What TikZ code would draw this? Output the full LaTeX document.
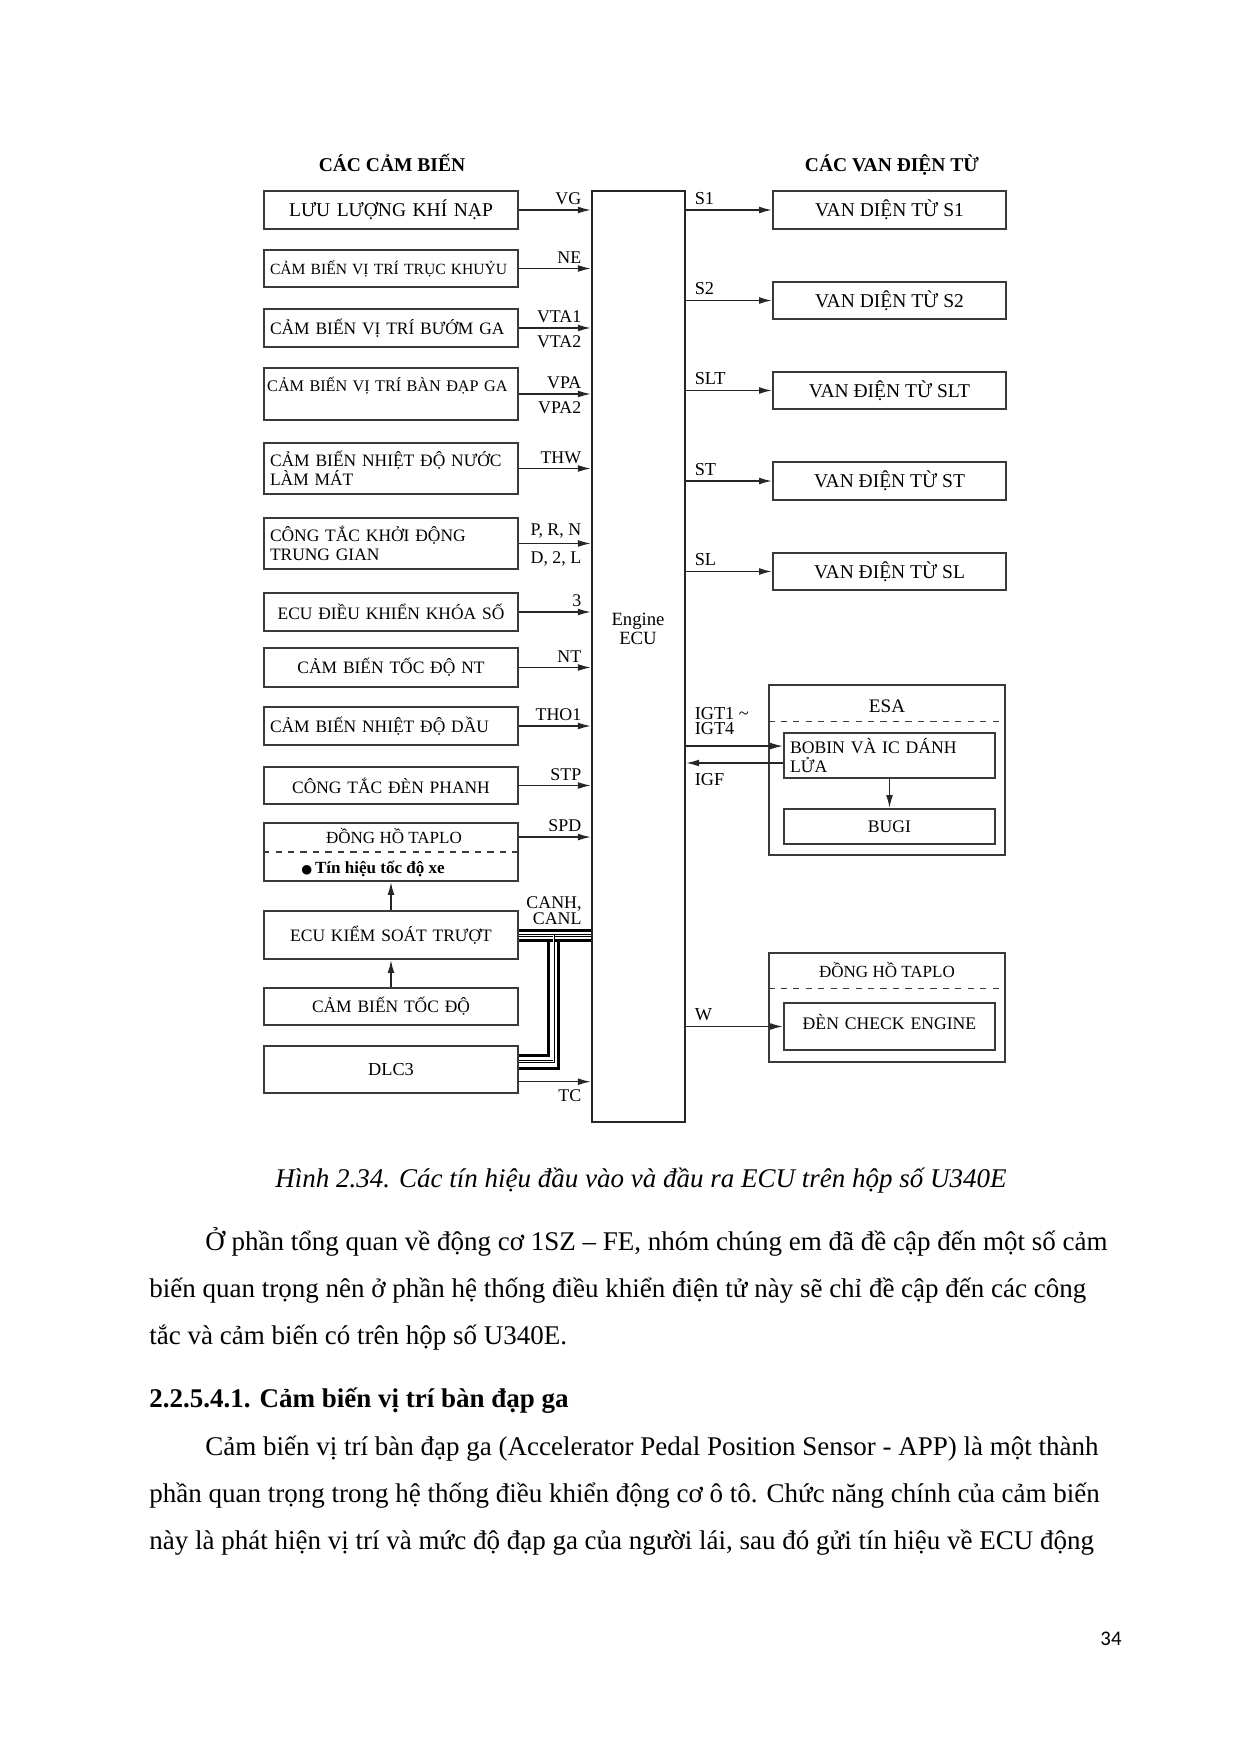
\documentclass[tikz,border=0pt]{standalone}
\usepackage{fontspec}
\setmainfont{Liberation Serif}
\newfontfamily\sotrang{Carlito}
\newfontfamily\kyhieu{DejaVu Sans}
\usepackage{tikz}
\usepackage{xcolor}
\usetikzlibrary{
    positioning,
    calc,
    arrows.meta
}
\definecolor{VienHop}{HTML}{3A3A3A}

\tikzset{
    hopcb/.style={
        draw=VienHop,
        line width=0.9pt,
        text width=40.95mm,
        inner xsep=1.02mm,
        inner ysep=1pt,
        minimum height=6.43mm,
        align=left,
        font=\fontsize{8.4}{9.2}\selectfont
    },
    hopvan/.style={
        draw=VienHop,
        line width=0.9pt,
        minimum width=39.43mm,
        minimum height=6.43mm,
        inner sep=1pt,
        align=center,
        font=\fontsize{9.4}{11}\selectfont
    },
    hoptrong/.style={
        draw=VienHop,
        line width=0.9pt,
        text width=33.67mm,
        inner xsep=1.02mm,
        inner ysep=1pt,
        align=left,
        font=\fontsize{8.5}{9.6}\selectfont
    },
    hopngoai/.style={
        draw=VienHop,
        line width=0.7pt,
        minimum width=39.94mm,
        inner sep=0pt
    },
    tinhieu/.style={
        draw=black!85,
        line width=0.7pt,
        -{Latex[length=2.2mm,width=1.15mm]}
    },
    nhanT/.style={anchor=south east, inner sep=1pt, xshift=-1.17mm, yshift=0.4mm, align=right, font=\fontsize{8.6}{7.4}\selectfont},
    nhanTd/.style={anchor=north east, inner sep=1pt, xshift=-1.17mm, yshift=-0.9mm, font=\fontsize{8.6}{7.4}\selectfont},
    nhanP/.style={anchor=south west, inner sep=1pt, xshift=1.0mm, yshift=0.5mm, align=left, font=\fontsize{8.8}{7.2}\selectfont},
    nhanPd/.style={anchor=north west, inner sep=1pt, xshift=1.0mm, yshift=-1.2mm, font=\fontsize{8.8}{7.2}\selectfont},
    daycan/.style={draw=black, line width=1.45pt},
    daycandoi/.style={draw=black, line width=0.4pt, double=white, double distance=0.5pt},
    tieude/.style={anchor=base, inner sep=0pt, font=\bfseries\fontsize{9.4}{11}\selectfont},
    dongvb/.style={anchor=base west, inner sep=0pt, font=\fontsize{13}{15}\selectfont}
}

\begin{document}
\begin{tikzpicture}[x=0.16922mm, y=-0.16922mm]
    \useasboundingbox (0,0) rectangle (1241,1754);

    \node[tieude] (tdcb) at (392,172) {CÁC CẢM BIẾN};
    \node[tieude] (tdvan) at (892,172) {CÁC VAN ĐIỆN TỪ};

    \node[
        draw=black!85,
        line width=1pt,
        minimum width=15.74mm,
        minimum height=157.54mm,
        inner sep=0pt
    ] (ecu) at (638.5,656.5) {};
    \node[align=center, inner sep=0pt, font=\fontsize{9}{6.3}\selectfont] (ecuchu) at (638,629) {Engine\\ECU};

    \node[hopcb, align=center, font=\fontsize{9.4}{10}\selectfont] (luuluong) at (391,210) {LƯU LƯỢNG KHÍ NẠP};
    \node[hopcb, minimum height=6.26mm, font=\fontsize{7.5}{8}\selectfont] (truckhuyu) at (391,268.5) {CẢM BIẾN VỊ TRÍ TRỤC KHUỶU};
    \node[hopcb] (buomga) at (391,328) {CẢM BIẾN VỊ TRÍ BƯỚM GA};
    \node[hopcb, minimum height=8.80mm, text width=41.9mm, inner xsep=0.54mm, font=\fontsize{7.8}{9.2}\selectfont] (bandap) at (391,394) {CẢM BIẾN VỊ TRÍ BÀN ĐẠP GA\\\mbox{}};
    \node[hopcb, minimum height=8.63mm] (nuoc) at (391,468.5) {CẢM BIẾN NHIỆT ĐỘ NƯỚC\\LÀM MÁT};
    \node[hopcb, minimum height=8.63mm] (khoidong) at (391,543.5) {CÔNG TẮC KHỞI ĐỘNG\\TRUNG GIAN};
    \node[hopcb, align=center] (khoaso) at (391,612) {ECU ĐIỀU KHIỂN KHÓA SỐ};
    \node[hopcb, align=center, minimum height=6.60mm] (tocdont) at (391,667.5) {CẢM BIẾN TỐC ĐỘ NT};
    \node[hopcb] (dau) at (391,726) {CẢM BIẾN NHIỆT ĐỘ DẦU};
    \node[hopcb, align=center, minimum height=6.26mm] (phanh) at (391,785.5) {CÔNG TẮC ĐÈN PHANH};
    \node[hopcb, minimum height=9.81mm] (taplot) at (391,852) {};
    \draw[dashed, draw=VienHop, line width=0.7pt] (taplot.west) -- (taplot.east);
    \node[anchor=base, inner sep=0pt, font=\fontsize{8.2}{9}\selectfont] (taplotchu) at (394,843) {ĐỒNG HỒ TAPLO};
    \node[anchor=base, inner sep=0pt, font=\bfseries\fontsize{8.2}{9}\selectfont] (tinhieuxe) at (373,873) {{\kyhieu\fontsize{6}{6}\selectfont ●}\,Tín hiệu tốc độ xe};
    \node[hopcb, align=center, minimum height=8.12mm] (truot) at (391,935) {ECU KIỂM SOÁT TRƯỢT};
    \node[hopcb, align=center, minimum height=6.26mm] (tocdo) at (391,1006.5) {CẢM BIẾN TỐC ĐỘ};
    \node[hopcb, align=center, minimum height=7.95mm, font=\fontsize{8.8}{10}\selectfont] (dlc) at (391,1069.5) {DLC3};

    \draw[tinhieu] (luuluong.east) -- (luuluong.east -| ecu.west) node[nhanT] (lvg) {VG};
    \draw[tinhieu] (truckhuyu.east) -- (truckhuyu.east -| ecu.west) node[nhanT] (lne) {NE};
    \draw[tinhieu] (buomga.east) -- (buomga.east -| ecu.west) node[nhanT] (lvta1) {VTA1} node[nhanTd] (lvta2) {VTA2};
    \draw[tinhieu] (bandap.east) -- (bandap.east -| ecu.west) node[nhanT] (lvpa) {VPA} node[nhanTd] (lvpa2) {VPA2};
    \draw[tinhieu] (nuoc.east) -- (nuoc.east -| ecu.west) node[nhanT] (lthw) {THW};
    \draw[tinhieu] (khoidong.east) -- (khoidong.east -| ecu.west) node[nhanT] (lprn) {P, R, N} node[nhanTd] (ld2l) {D, 2, L};
    \draw[tinhieu] (khoaso.east) -- (khoaso.east -| ecu.west) node[nhanT] (l3) {3};
    \draw[tinhieu] (tocdont.east) -- (tocdont.east -| ecu.west) node[nhanT] (lnt) {NT};
    \draw[tinhieu] (dau.east) -- (dau.east -| ecu.west) node[nhanT] (ltho) {THO1};
    \draw[tinhieu] (phanh.east) -- (phanh.east -| ecu.west) node[nhanT] (lstp) {STP};
    \coordinate (spdra) at ($(taplot.north east)!0.5!(taplot.east)$);
    \draw[tinhieu] (spdra) -- (spdra -| ecu.west) node[nhanT] (lspd) {SPD};
    \coordinate (tcra) at ($(dlc.east)!0.5!(dlc.south east)$);
    \draw[tinhieu] (tcra) -- (tcra -| ecu.west) node[nhanTd] (ltc) {TC};

    \draw[tinhieu] (tocdo.north) -- (truot.south);
    \draw[tinhieu] (truot.north) -- (taplot.south);

    \coordinate (cana) at ([yshift=0.68mm]truot.east);
    \coordinate (canm) at ([yshift=-0.08mm]truot.east);
    \coordinate (canb) at ([yshift=-0.85mm]truot.east);
    \coordinate (dlca) at ([yshift=2.45mm]dlc.east);
    \coordinate (dlcm) at ([yshift=1.35mm]dlc.east);
    \coordinate (dlcb) at ([yshift=0.25mm]dlc.east);
    \draw[daycan] (cana) -- (cana -| ecu.west);
    \draw[daycan] (canb) -- (canb -| ecu.west);
    \draw[daycan] ([xshift=5.08mm]canb) |- (dlca);
    \draw[daycan] ([xshift=6.77mm]canb) |- (dlcb);
    \draw[daycandoi] (canm) -- (canm -| ecu.west);
    \draw[daycandoi] ([xshift=5.92mm]canm) |- (dlcm);
    \node[nhanT, yshift=0.3mm] (lcan) at (cana -| ecu.west) {CANH,\\CANL};

    \node[hopvan] (s1) at (889.5,210) {VAN DIỆN TỪ S1};
    \node[hopvan, minimum height=6.26mm] (s2) at (889.5,300.5) {VAN DIỆN TỪ S2};
    \node[hopvan, minimum height=6.26mm] (slt) at (889.5,390.5) {VAN ĐIỆN TỪ SLT};
    \node[hopvan] (st) at (889.5,481) {VAN ĐIỆN TỪ ST};
    \node[hopvan, minimum height=6.26mm] (sl) at (889.5,571.5) {VAN ĐIỆN TỪ SL};

    \draw[tinhieu] (ecu.east |- s1.west) node[nhanP] (ls1) {S1} -- (s1.west);
    \draw[tinhieu] (ecu.east |- s2.west) node[nhanP] (ls2) {S2} -- (s2.west);
    \draw[tinhieu] (ecu.east |- slt.west) node[nhanP] (lslt) {SLT} -- (slt.west);
    \draw[tinhieu] (ecu.east |- st.west) node[nhanP] (lst) {ST} -- (st.west);
    \draw[tinhieu] (ecu.east |- sl.west) node[nhanP] (lsl) {SL} -- (sl.west);

    \node[hopngoai, minimum height=28.77mm] (esa) at (887,770) {};
    \node[anchor=base, inner sep=0pt, font=\fontsize{9.2}{10}\selectfont] (esachu) at (887,712) {ESA};
    \draw[dashed, draw=VienHop, line width=0.7pt] ([yshift=-6.26mm]esa.north west) -- ([yshift=-6.26mm]esa.north east);
    \node[hoptrong, minimum height=7.61mm] (bobin) at (889.5,755.5) {BOBIN VÀ IC DÁNH\\LỬA};
    \node[hoptrong, align=center, minimum height=5.92mm] (bugi) at (889.5,826.5) {BUGI};
    \draw[tinhieu] (bobin.south) -- (bugi.north);
    \coordinate (igtvao) at ([yshift=1.6mm]bobin.west);
    \coordinate (igfra) at ([yshift=-1.27mm]bobin.west);
    \draw[tinhieu] (igtvao -| ecu.east) node[nhanP, yshift=1mm] (ligt) {IGT1 \textasciitilde\\IGT4} -- (igtvao);
    \draw[tinhieu] (igfra) -- (igfra -| ecu.east) node[nhanPd] (ligf) {IGF};

    \node[hopngoai, minimum height=18.44mm] (taplop) at (887,1007.5) {};
    \node[anchor=base, inner sep=0pt, font=\fontsize{8.2}{9}\selectfont] (taplopchu) at (887,977) {ĐỒNG HỒ TAPLO};
    \draw[dashed, draw=VienHop, line width=0.7pt] ([yshift=-6.09mm]taplop.north west) -- ([yshift=-6.09mm]taplop.north east);
    \node[hoptrong, align=center, minimum height=7.95mm, text depth=1.6mm] (checkeng) at (889.5,1026.5) {ĐÈN CHECK ENGINE};
    \draw[tinhieu] (ecu.east |- checkeng.west) node[nhanP] (lw) {W} -- (checkeng.west);

    \node[anchor=base, inner sep=0pt, font=\itshape\fontsize{13}{15}\selectfont] (chuthich) at (641,1187) {Hình 2.34. Các tín hiệu đầu vào và đầu ra ECU trên hộp số U340E};
    \node[dongvb] (d1) at (205,1250) {Ở phần tổng quan về động cơ 1SZ – FE, nhóm chúng em đã đề cập đến một số cảm};
    \node[dongvb] (d2) at (149,1297) {biến quan trọng nên ở phần hệ thống điều khiển điện tử này sẽ chỉ đề cập đến các công};
    \node[dongvb] (d3) at (149,1344) {tắc và cảm biến có trên hộp số U340E.};
    \node[dongvb, font=\bfseries\fontsize{13}{15}\selectfont] (muc) at (149,1407) {2.2.5.4.1. Cảm biến vị trí bàn đạp ga};
    \node[dongvb] (d4) at (205,1455) {Cảm biến vị trí bàn đạp ga (Accelerator Pedal Position Sensor - APP) là một thành};
    \node[dongvb] (d5) at (149,1502) {phần quan trọng trong hệ thống điều khiển động cơ ô tô. Chức năng chính của cảm biến};
    \node[dongvb] (d6) at (149,1549) {này là phát hiện vị trí và mức độ đạp ga của người lái, sau đó gửi tín hiệu về ECU động};
    \node[anchor=base, inner sep=0pt, font=\sotrang\fontsize{10}{12}\selectfont] (trang) at (1111,1645) {34};
\end{tikzpicture}
\end{document}
